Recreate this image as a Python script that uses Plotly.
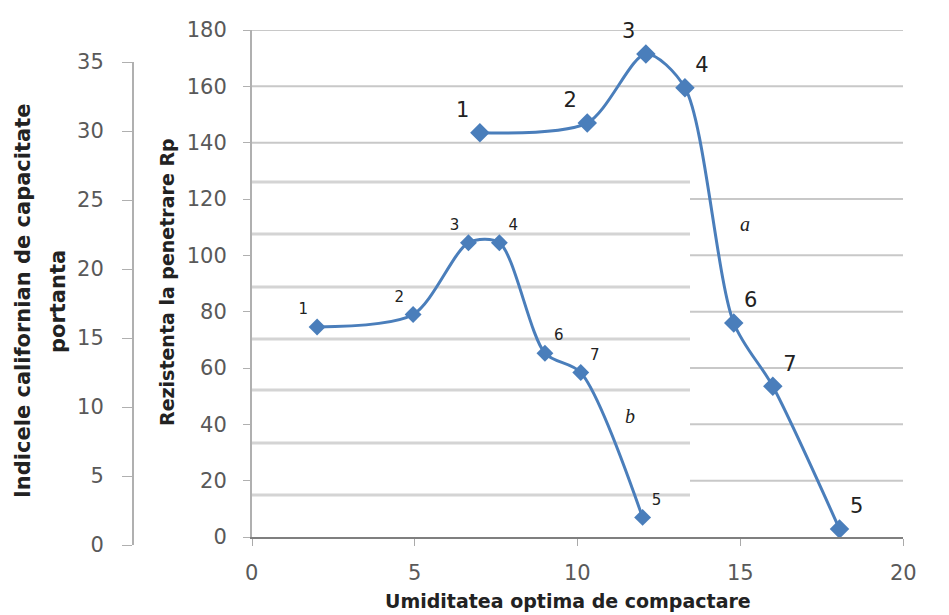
import plotly.graph_objects as go

# Series a: Rezistenta la penetrare Rp (inner left axis)
x_a = [7.0, 10.3, 12.1, 13.3, 14.8, 16.0, 18.05]
rp_a = [143.5, 147.0, 171.5, 159.5, 76.0, 53.5, 2.8]
labels_a = ["1", "2", "3", "4", "6", "7", "5"]
pos_a = ["top left", "top left", "top left", "top right", "top right", "top right", "top right"]

# Series b: Indicele californian de capacitate portanta (outer left axis)
x_b = [2.0, 4.95, 6.65, 7.6, 9.0, 10.1, 12.0]
cbr_b = [15.8, 16.7, 21.9, 21.9, 13.9, 12.5, 2.0]
labels_b = ["1", "2", "3", "4", "6", "7", "5"]
pos_b = ["top left", "top left", "top left", "top right", "top right", "top right", "top right"]

x_ticks = [0, 5, 10, 15, 20]
rp_ticks = list(range(0, 181, 20))
cbr_ticks = list(range(0, 36, 5))

W, H = 949, 615
BLUE = "#4a7ebb"
FONT = "DejaVu Sans"
TICK = dict(family=FONT, size=21, color="#595959")
GRID = "#c8c8c8"

X0, X1 = 252, 903          # plot area, px
RP_Y0, RP_Y1 = 537, 30     # Rp axis 0 and 180, px
CBR_Y0, CBR_Y1 = 545, 62   # CBR axis 0 and 35, px
SPLIT_X = 690              # where the inset grid ends
INSET_GRID_PX = [182, 234, 287, 339, 390, 443, 495]
XLABEL_Y = 573             # centre of the x tick labels, px

fig = go.Figure()
fig.add_trace(go.Scatter(
    x=x_a, y=rp_a, mode="lines+markers+text", text=labels_a, textposition=pos_a,
    textfont=dict(family=FONT, size=21, color="#222222"),
    line=dict(color=BLUE, width=3, shape="spline", smoothing=0.8),
    marker=dict(symbol="diamond", size=15, color=BLUE),
    xaxis="x", yaxis="y", showlegend=False, cliponaxis=False))
fig.add_trace(go.Scatter(
    x=x_b, y=cbr_b, mode="lines+markers+text", text=labels_b, textposition=pos_b,
    textfont=dict(family=FONT, size=15, color="#222222"),
    line=dict(color=BLUE, width=3, shape="spline", smoothing=0.8),
    marker=dict(symbol="diamond", size=13, color=BLUE),
    xaxis="x", yaxis="y2", showlegend=False, cliponaxis=False))

fig.update_layout(
    width=W, height=H, margin=dict(l=0, r=0, t=0, b=0, autoexpand=False),
    paper_bgcolor="white", plot_bgcolor="rgba(0,0,0,0)",
    xaxis=dict(domain=[X0 / W, X1 / W], range=[0, 20], tickvals=x_ticks,
               showticklabels=False,
               showgrid=False, showline=True, linecolor="#7f7f7f", linewidth=2,
               ticks="outside", ticklen=7, tickcolor="#aaaaaa",
               zeroline=False, anchor="y", automargin=False),
    yaxis=dict(domain=[(H - RP_Y0) / H, (H - RP_Y1) / H], range=[0, 180], tickvals=rp_ticks,
               showgrid=False, showline=True, linecolor="#b0b0b0", linewidth=2,
               ticks="outside", ticklen=7, tickcolor="#b0b0b0", tickfont=TICK,
               ticklabelstandoff=12, zeroline=False, anchor="x", automargin=False),
    yaxis2=dict(domain=[(H - CBR_Y0) / H, (H - CBR_Y1) / H], range=[0, 35], tickvals=cbr_ticks,
                anchor="free", position=133 / W, side="left",
                showgrid=False, showline=True, linecolor="#b0b0b0", linewidth=2,
                ticks="outside", ticklen=10, tickcolor="#b0b0b0", tickfont=TICK,
                ticklabelstandoff=14, zeroline=False, automargin=False),
)

# x tick labels placed at the tick values
for v in x_ticks:
    fig.add_annotation(x=v, xref="x", y=1 - XLABEL_Y / H, yref="paper",
                       xanchor="center", yanchor="middle", text=str(v),
                       showarrow=False, font=TICK)

# Rp grid: full width in the upper part, right part only below (composite figure)
for v in rp_ticks[1:]:
    x_start = X0 if v >= 140 else SPLIT_X
    fig.add_shape(type="line", xref="paper", yref="y", x0=x_start / W, x1=X1 / W, y0=v, y1=v,
                  line=dict(color=GRID, width=2), layer="below")
# grid of the inset chart (left part)
for py in INSET_GRID_PX:
    fig.add_shape(type="line", xref="paper", yref="paper", x0=X0 / W, x1=SPLIT_X / W,
                  y0=(H - py) / H, y1=(H - py) / H,
                  line=dict(color="#d4d4d4", width=3), layer="below")

fig.add_annotation(x=15.15, y=111, xref="x", yref="y", text="<i>a</i>", showarrow=False,
                   font=dict(family="Liberation Serif", size=20, color="#222222"))
fig.add_annotation(x=11.6, y=43, xref="x", yref="y", text="<i>b</i>", showarrow=False,
                   font=dict(family="Liberation Serif", size=20, color="#222222"))

TITLE = dict(family=FONT, size=19, color="#222222")
TITLE_CBR = dict(family=FONT, size=21, color="#222222")
fig.add_annotation(x=167 / W, y=1 - 282 / H, xref="paper", yref="paper",
                   xanchor="center", yanchor="middle",
                   text="<b>Rezistenta la penetrare Rp</b>", textangle=-90, showarrow=False,
                   font=TITLE)
fig.add_annotation(x=23 / W, y=1 - 301 / H, xref="paper", yref="paper",
                   xanchor="center", yanchor="middle",
                   text="<b>Indicele californian de capacitate</b>", textangle=-90,
                   showarrow=False, font=TITLE_CBR)
fig.add_annotation(x=58 / W, y=1 - 302 / H, xref="paper", yref="paper",
                   xanchor="center", yanchor="middle",
                   text="<b>portanta</b>", textangle=-90,
                   showarrow=False, font=TITLE_CBR)
fig.add_annotation(x=568 / W, y=1 - 601 / H, xref="paper", yref="paper",
                   xanchor="center", yanchor="middle",
                   text="<b>Umiditatea optima de compactare</b>", showarrow=False,
                   font=TITLE)

fig.write_html("out.html", config={"displayModeBar": False},
               post_script="document.body.style.margin='0px';")
